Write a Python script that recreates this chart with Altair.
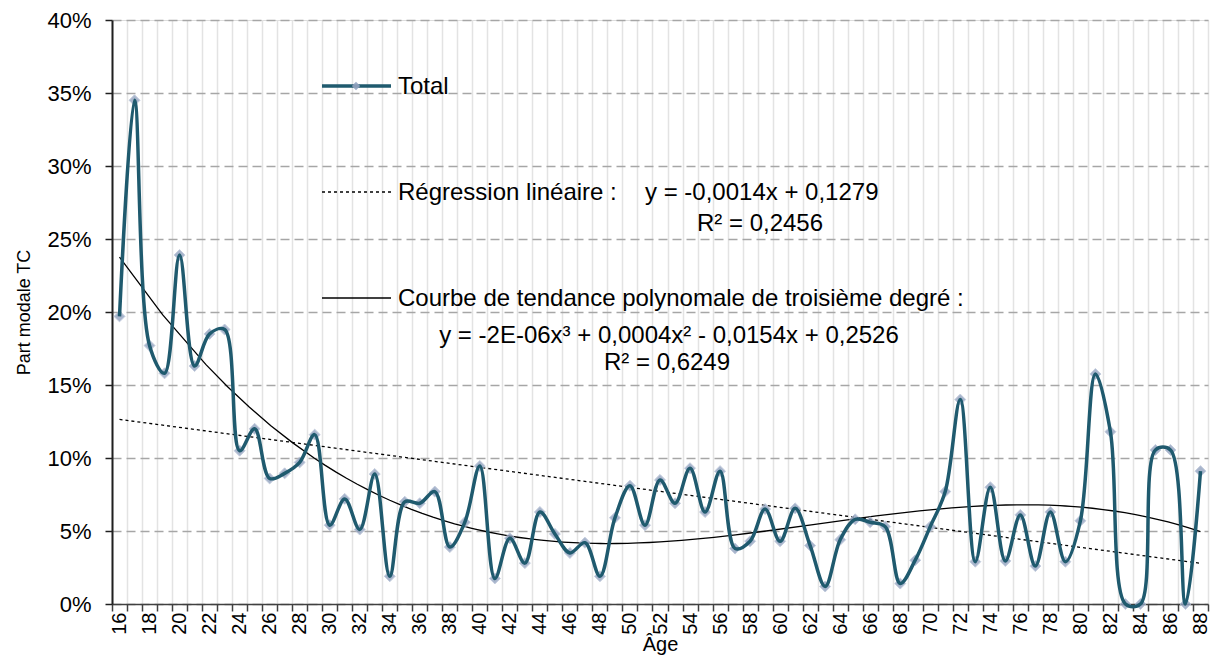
import altair as alt
import pandas as pd

ages = list(range(16, 89))
part_modale = [
    0.197, 0.345, 0.177, 0.158, 0.239, 0.163, 0.185, 0.188, 0.105, 0.120,
    0.086, 0.0895, 0.097, 0.116, 0.054, 0.072, 0.051, 0.089, 0.019, 0.070,
    0.069, 0.077, 0.039, 0.056, 0.0945, 0.0175, 0.045, 0.028, 0.063, 0.048,
    0.035, 0.042, 0.019, 0.059, 0.081, 0.054, 0.085, 0.069, 0.093, 0.063,
    0.091, 0.038, 0.043, 0.065, 0.043, 0.0655, 0.040, 0.012, 0.044, 0.058,
    0.056, 0.053, 0.014, 0.030, 0.053, 0.077, 0.140, 0.029, 0.080, 0.0295,
    0.061, 0.026, 0.063, 0.029, 0.057, 0.1575, 0.118, 0.0, 0.0, 0.1055,
    0.1055, 0.0, 0.091,
]
y_ticks = [0, 0.05, 0.10, 0.15, 0.20, 0.25, 0.30, 0.35, 0.40]
x_bounds = [a - 0.5 for a in ages] + [ages[-1] + 0.5]

legend_total = "Total"
legend_lin = "Régression linéaire :"
eq_lin = "y = -0,0014x + 0,1279"
r2_lin = "R² = 0,2456"
legend_poly = "Courbe de tendance polynomale de troisième degré :"
eq_poly = "y = -2E-06x³ + 0,0004x² - 0,0154x + 0,2526"
r2_poly = "R² = 0,6249"

df = pd.DataFrame({"age": ages, "pct": part_modale})

FONT = "Liberation Sans"
W, H = 1096, 584
LINE_COLOR = "#1F5A6E"
MARK_COLOR = "#93A3C0"
step = W / len(ages)

x_enc = alt.X(
    "age:Q",
    scale=alt.Scale(domain=[ages[0] - 0.5, ages[-1] + 0.5], nice=False, zero=False),
    axis=alt.Axis(
        values=x_bounds,
        title="Âge",
        titleFontSize=20,
        titleFontWeight="normal",
        titleFont=FONT,
        titleColor="#000000",
        titlePadding=0,
        labelExpr="(datum.value + 0.5) % 2 == 0 ? format(datum.value + 0.5, 'd') : ''",
        labelOffset=step / 2,
        labelAngle=-90,
        labelAlign="right",
        labelBaseline="middle",
        labelFlush=False,
        labelOverlap=False,
        labelFontSize=20,
        labelFont=FONT,
        labelColor="#000000",
        labelPadding=1,
        grid=True,
        gridColor="#E3E3E3",
        gridWidth=1.5,
        tickColor="#404040",
        tickSize=7,
        tickWidth=1.5,
        domainColor="#404040",
        domainWidth=1.5,
    ),
)
y_enc = alt.Y(
    "pct:Q",
    scale=alt.Scale(domain=[0, 0.4], nice=False),
    axis=alt.Axis(
        values=y_ticks,
        format=".0%",
        title="Part modale TC",
        titleFontSize=18,
        titleFontWeight="normal",
        titleFont=FONT,
        titleColor="#000000",
        titlePadding=13,
        labelFontSize=22,
        labelFont=FONT,
        labelColor="#000000",
        labelPadding=14,
        grid=True,
        gridColor="#A6A6A6",
        gridDash=[9, 5],
        gridWidth=1.5,
        tickColor="#202020",
        tickSize=7,
        tickWidth=1.5,
        domainColor="#202020",
        domainWidth=2,
    ),
)

base = alt.Chart(df).encode(x=x_enc, y=y_enc)

pts = base.mark_point(shape="diamond", filled=True, size=120, color=MARK_COLOR,
                      opacity=0.8, stroke="#B5C0D5", strokeWidth=1)
line = base.mark_line(interpolate="catmull-rom", color=LINE_COLOR, strokeWidth=3.5)

lin = base.transform_regression("age", "pct").mark_line(
    color="#000000", strokeWidth=1.3, strokeDash=[3, 3]
)
poly = base.transform_regression("age", "pct", method="poly", order=3).mark_line(
    color="#000000", strokeWidth=1.3
)


def txt(s, x, y, align="left"):
    return alt.Chart(pd.DataFrame({"t": [s]})).mark_text(
        align=align, baseline="middle", fontSize=24, font=FONT, color="#000000"
    ).encode(text="t:N", x=alt.value(x), y=alt.value(y))


def sample(y, dash=None, color="#000000", width=1.3):
    kw = dict(color=color, strokeWidth=width)
    if dash:
        kw["strokeDash"] = dash
    return alt.Chart(pd.DataFrame({"t": [0]})).mark_rule(**kw).encode(
        x=alt.value(210), x2=alt.value(279), y=alt.value(y)
    )


leg_pt = alt.Chart(pd.DataFrame({"t": [0]})).mark_point(
    shape="diamond", filled=True, size=70, color=MARK_COLOR, opacity=0.9
).encode(x=alt.value(244), y=alt.value(66))

legend = [
    sample(66, color=LINE_COLOR, width=3.5),
    leg_pt,
    txt(legend_total, 286, 67),
    sample(172, dash=[3, 3]),
    txt(legend_lin, 286, 173),
    txt(eq_lin, 533, 173),
    txt(r2_lin, 648, 204, align="center"),
    sample(278),
    txt(legend_poly, 286, 279),
    txt(eq_poly, 557, 316, align="center"),
    txt(r2_poly, 555, 343, align="center"),
]

chart = alt.layer(lin, poly, pts, line, *legend).properties(
    width=W, height=H,
    autosize=alt.AutoSizeParams(type="none"),
    padding={"left": 104, "top": 12, "right": 3, "bottom": 53},
).configure_view(stroke="#404040", strokeWidth=1.5).configure(
    font=FONT
)

chart.save("out.html", embed_options={"renderer": "svg", "actions": False})
